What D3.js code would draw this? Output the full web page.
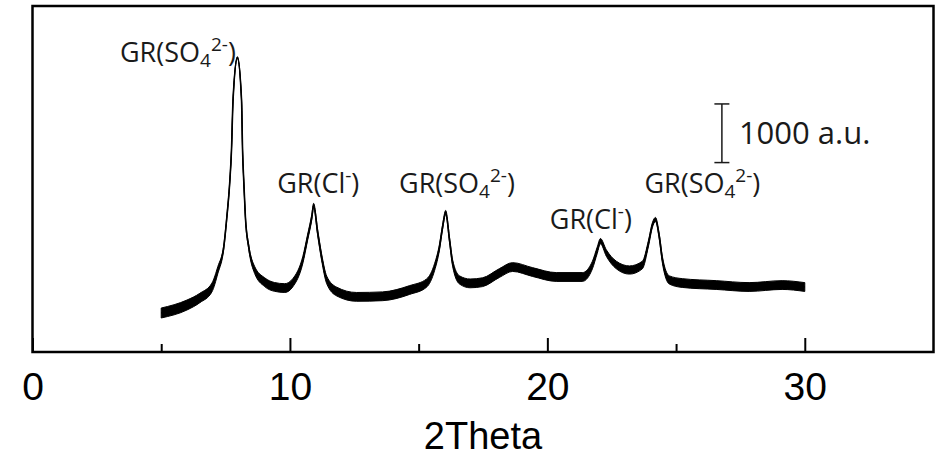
<!DOCTYPE html>
<html>
<head>
<meta charset="utf-8">
<script src="https://cdn.jsdelivr.net/npm/d3@7"></script>
<style>
  html, body { margin: 0; padding: 0; background: #fff; }
  svg { display: block; }
</style>
</head>
<body>
<svg id="chart"></svg>
<script>
// XRD pattern (2theta in degrees, intensity in a.u.)
const twoTheta = [5.0, 6.0, 6.5, 6.97, 7.20, 7.43, 7.55, 7.66, 7.73, 7.79, 7.96, 8.12, 8.16, 8.21, 8.27,
  8.40, 8.63, 9.02, 9.40, 9.80, 10.11, 10.50, 10.69, 10.85, 10.92, 11.08, 11.23, 11.43, 11.82, 12.59,
  13.60, 14.65, 15.31, 15.62, 15.81, 15.93, 16.05, 16.20, 16.32, 16.59, 17.00, 17.48, 18.14, 18.65, 19.42,
  20.35, 21.36, 21.75, 21.94, 22.06, 22.29, 22.68, 23.19, 23.69, 23.93, 24.08, 24.20, 24.35, 24.47,
  24.74, 25.24, 26.56, 27.84, 29.12, 30.0];
const intensity = [665, 801, 921, 1100, 1398, 1790, 2302, 2881, 3444, 4297, 5020, 4297, 3444, 2881, 2302,
  1790, 1398, 1190, 1110, 1090, 1180, 1569, 1961, 2302, 2500, 2029, 1620, 1228, 1030, 940,
  950, 1057, 1176, 1449, 1790, 2131, 2380, 1910, 1517, 1228, 1170, 1190, 1347, 1449, 1364,
  1279, 1279, 1483, 1739, 1890, 1688, 1483, 1398, 1483, 1858, 2165, 2260, 1961, 1569,
  1228, 1176, 1142, 1108, 1142, 1108];
// half width of the noise band seen around the trace (a.u.)
const noise = [85, 85, 80, 75, 60, 35, 30, 25, 25, 25, 15, 25, 25, 25, 30,
  40, 60, 75, 75, 75, 70, 60, 50, 45, 35, 50, 55, 65, 75, 75,
  75, 75, 70, 60, 50, 40, 35, 45, 55, 70, 75, 75, 75, 75, 75,
  75, 75, 65, 55, 45, 55, 65, 70, 65, 50, 40, 35, 45, 55,
  70, 75, 75, 75, 75, 75];

const xTicks = [0, 10, 20, 30];
const xMinorTicks = [5, 15, 25];

const peakLabels = [
  { text: 'GR(SO', sub: '4', sup: '2-', at: 7.90, level: 4945, anchor: 'end' },
  { text: 'GR(Cl', sub: '', sup: '-', at: 11.10, level: 2711, anchor: 'middle' },
  { text: 'GR(SO', sub: '4', sup: '2-', at: 16.49, level: 2711, anchor: 'middle' },
  { text: 'GR(Cl', sub: '', sup: '-', at: 21.69, level: 2097, anchor: 'middle' },
  { text: 'GR(SO', sub: '4', sup: '2-', at: 26.02, level: 2711, anchor: 'middle' }
];
const scaleBarSize = 1000;

let width = 936;
let height = 458;

let svg = d3.select('#chart').attr('width', width).attr('height', height);

let x = d3.scaleLinear().domain([0, 35]).range([32.5, 933.5]);
let y = d3.scaleLinear().domain([0, 5900]).range([352, 6]);

let data = twoTheta.map((t, i) => ({ t: t, v: intensity[i], n: noise[i] }));

// noisy trace: band + centre line
let band = d3.area()
  .x(d => x(d.t))
  .y0(d => y(d.v - d.n))
  .y1(d => y(d.v + d.n))
  .curve(d3.curveMonotoneX);

let line = d3.line()
  .x(d => x(d.t))
  .y(d => y(d.v))
  .curve(d3.curveMonotoneX);

svg.append('path')
  .datum(data)
  .attr('d', band)
  .attr('fill', '#000')
  .attr('stroke', '#000')
  .attr('stroke-width', 1)
  .attr('stroke-linejoin', 'round');

svg.append('path')
  .datum(data)
  .attr('d', line)
  .attr('fill', 'none')
  .attr('stroke', '#000')
  .attr('stroke-width', 1.6);

// frame
svg.append('rect')
  .attr('x', x(0))
  .attr('y', y(5900))
  .attr('width', x(35) - x(0))
  .attr('height', y(0) - y(5900))
  .attr('fill', 'none')
  .attr('stroke', '#000')
  .attr('stroke-width', 2.5);

// x axis, ticks point inwards
let xAxis = d3.axisBottom(x)
  .tickValues(xTicks)
  .tickSize(-14)
  .tickPadding(20)
  .tickFormat(d3.format('d'));

let gx = svg.append('g')
  .attr('transform', `translate(0,${y(0)})`)
  .call(xAxis);
gx.select('.domain').remove();
gx.selectAll('line').attr('stroke', '#000').attr('stroke-width', 2);
gx.selectAll('text')
  .attr('fill', '#000')
  .attr('font-family', 'Liberation Sans, Arial, sans-serif')
  .attr('font-size', '39px');

let gxMinor = svg.append('g')
  .attr('transform', `translate(0,${y(0)})`)
  .call(d3.axisBottom(x).tickValues(xMinorTicks).tickSize(-8).tickFormat(''));
gxMinor.select('.domain').remove();
gxMinor.selectAll('line').attr('stroke', '#000').attr('stroke-width', 2);

svg.append('text')
  .attr('x', (x(0) + x(35)) / 2)
  .attr('y', 449)
  .attr('text-anchor', 'middle')
  .attr('font-family', 'Liberation Sans, Arial, sans-serif')
  .attr('font-size', '38px')
  .attr('fill', '#000')
  .text('2Theta');

// peak labels
peakLabels.forEach(p => {
  let t = svg.append('text')
    .attr('x', x(p.at))
    .attr('y', y(p.level))
    .attr('text-anchor', p.anchor)
    .attr('font-family', 'Open Sans, sans-serif')
    .attr('font-size', '27px')
    .attr('fill', '#1a1a1a');
  t.append('tspan').text(p.text);
  if (p.sub) {
    t.append('tspan').attr('font-size', '19px').attr('baseline-shift', '-5px').text(p.sub);
  }
  t.append('tspan').attr('font-size', '19px').attr('baseline-shift', '11px').text(p.sup);
  t.append('tspan').text(')');
});

// 1000 a.u. scale bar
let barX = x(26.78);
let barTop = y(4230);
let barBottom = y(4230 - scaleBarSize);
let bar = svg.append('g').attr('stroke', '#1a1a1a').attr('stroke-width', 1.5);
bar.append('line').attr('x1', barX).attr('x2', barX).attr('y1', barTop).attr('y2', barBottom);
bar.append('line').attr('x1', barX - 7.5).attr('x2', barX + 7.5).attr('y1', barTop).attr('y2', barTop);
bar.append('line').attr('x1', barX - 7.5).attr('x2', barX + 7.5).attr('y1', barBottom).attr('y2', barBottom);

svg.append('text')
  .attr('x', barX + 17)
  .attr('y', (barTop + barBottom) / 2 + 11)
  .attr('font-family', 'Open Sans, sans-serif')
  .attr('font-size', '31px')
  .attr('fill', '#1a1a1a')
  .text(scaleBarSize + ' a.u.');
</script>
</body>
</html>
